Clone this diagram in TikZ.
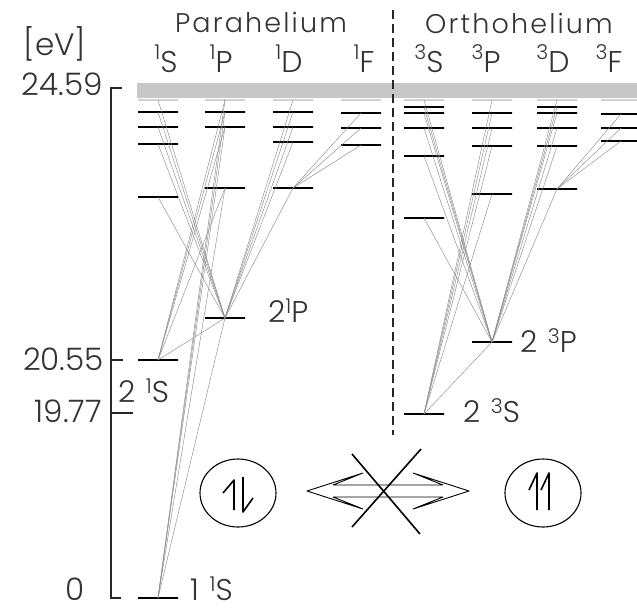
\documentclass[tikz,border=0pt]{standalone}
\usepackage{fontspec}
\setmainfont{Poppins}[UprightFont={* Light}]
\usepackage{tikz}
\usetikzlibrary{shapes.geometric, positioning}

\newcommand{\hsup}[2][0.3em]{\raisebox{#1}{\scalebox{0.68}{#2}}}

\begin{document}
\begin{tikzpicture}[
    x=1pt, y=-1pt,
    lvl/.style={
        draw, line width=2.4pt,
        inner sep=0pt, outer sep=0pt,
        minimum width=40pt, minimum height=0pt
    },
    lim/.style={lvl, draw=black!18, line width=1.4pt},
    trans/.style={black!45, line width=0.45pt},
    txt/.style={text=black!80, inner sep=0pt,
        font=\fontsize{30}{32}\selectfont\addfontfeature{LetterSpace=8}},
    num/.style={txt, font=\fontsize{31}{33}\selectfont},
    head/.style={txt, font=\fontsize{27}{29}\selectfont\addfontfeature{LetterSpace=8}},
    term/.style={txt, font=\fontsize{30}{32}\selectfont},
    axis/.style={line width=1.8pt, black!85},
    sep/.style={dash pattern=on 9pt off 5pt, line width=1.2pt, black!85},
    spin/.style={ellipse, draw, line width=1.1pt, minimum width=76pt, minimum height=68pt},
    harp/.style={line width=1.6pt, line join=round},
]
\useasboundingbox (0,0) rectangle (637,611);

% Ionisation band
\fill[black!22] (137,83) rectangle (637,98);

% Heads
\node[num, anchor=base]  (unit)      at (55,55)  {[eV]};
\node[head, anchor=base] (parahead)  at (261,32) {Parahelium};
\node[head, anchor=base] (orthohead) at (519,33) {Orthohelium};

\node[term, anchor=base] (hs1) at (166,72) {\hsup[0.42em]{1}S};
\node[term, anchor=base] (hs2) at (221,72) {\hsup[0.42em]{1}P};
\node[term, anchor=base] (hs3) at (289,72) {\hsup[0.42em]{1}D};
\node[term, anchor=base] (hs4) at (364,72) {\hsup[0.42em]{1}F};
\node[term, anchor=base] (ht1) at (429,72) {\hsup[0.42em]{3}S};
\node[term, anchor=base] (ht2) at (486,72) {\hsup[0.42em]{3}P};
\node[term, anchor=base] (ht3) at (553,72) {\hsup[0.42em]{3}D};
\node[term, anchor=base] (ht4) at (609,72) {\hsup[0.42em]{3}F};

% Energy axis
\coordinate (axtop) at (111,88);
\coordinate (axbot) at (111,598);
\draw[axis] ([xshift=11pt]axtop) -- (axtop) -- (axbot) -- ([xshift=10pt]axbot);
\draw[axis] (111,360) -- ++(12,0);
\draw[axis] (111,413) -- ++(22,0);

\node[num, anchor=base east] (e1) at (103,95)  {24.59};
\node[num, anchor=base east] (e2) at (104,370) {20.55};
\node[num, anchor=base east] (e3) at (102,422) {19.77};
\node[num, anchor=base]      (e4) at (75,600)  {0};

% Separator
\draw[sep] (393,10) -- (393,435);

% Series limits
\node[lim] (sLimS) at (158,100) {};
\node[lim] (sLimP) at (225,100) {};
\node[lim] (sLimD) at (293,100) {};
\node[lim] (sLimF) at (361,100) {};
\node[lim] (tLimS) at (424,100) {};
\node[lim] (tLimP) at (492,100) {};
\node[lim] (tLimD) at (557,100) {};
\node[lim] (tLimF) at (621,100) {};

% Singlet levels
\node[lvl] (s1S) at (158,598) {};
\node[lvl] (s2S) at (158,360) {};
\node[lvl] (s3S) at (158,197) {};
\node[lvl] (s4S) at (158,144) {};
\node[lvl] (s5S) at (158,127) {};
\node[lvl] (s6S) at (158,112) {};
\node[lvl] (s2P) at (225,318) {};
\node[lvl] (s3P) at (225,188) {};
\node[lvl] (s4P) at (225,127) {};
\node[lvl] (s5P) at (225,112) {};
\node[lvl] (s3D) at (293,188) {};
\node[lvl] (s4D) at (293,142) {};
\node[lvl] (s5D) at (293,127) {};
\node[lvl] (s6D) at (293,112) {};
\node[lvl] (s4F) at (361,145) {};
\node[lvl] (s5F) at (361,128) {};
\node[lvl] (s6F) at (361,113) {};

% Triplet levels
\node[lvl] (t2S) at (424,414) {};
\node[lvl] (t3S) at (424,218) {};
\node[lvl] (t4S) at (424,156) {};
\node[lvl] (t5S) at (424,128) {};
\node[lvl] (t6S) at (424,113) {};
\node[lvl] (t7S) at (424,107) {};
\node[lvl] (t2P) at (492,342) {};
\node[lvl] (t3P) at (492,194) {};
\node[lvl] (t4P) at (492,146) {};
\node[lvl] (t5P) at (492,128) {};
\node[lvl] (t6P) at (492,113) {};
\node[lvl] (t3D) at (557,189) {};
\node[lvl] (t4D) at (557,146) {};
\node[lvl] (t5D) at (557,128) {};
\node[lvl] (t6D) at (557,113) {};
\node[lvl] (t7D) at (557,107) {};
\node[lvl] (t4F) at (621,141) {};
\node[lvl] (t5F) at (621,128) {};
\node[lvl] (t6F) at (621,114) {};

% Level names
\node[txt, anchor=base west] (n1) at (268,322) {2\hsup{1}P};
\node[txt, anchor=base west] (n2) at (118,402) {2 \hsup{1}S};
\node[txt, anchor=base west] (n3) at (190,600) {1 \hsup{1}S};
\node[txt, anchor=base west] (n4) at (520,352) {2 \hsup{3}P};
\node[txt, anchor=base west] (n5) at (463,422) {2 \hsup{3}S};

% Singlet transitions
\draw[trans] (s2P.center) edge (sLimS.center) edge (s6S.center) edge (s5S.center)
    edge (s4S.center) edge (s3S.center)
    edge (sLimD.center) edge (s6D.center) edge (s5D.center) edge (s4D.center) edge (s3D.center);
\draw[trans] (s2S.center) edge (sLimP.center) edge (s5P.center) edge (s4P.center)
    edge (s3P.center) edge (s2P.center);
\draw[trans] (s1S.center) edge (sLimP.center) edge (s5P.center) edge (s4P.center)
    edge (s3P.center) edge (s2P.center);
\draw[trans] (s3D.center) edge (s4F.center) edge (s5F.center) edge (s6F.center);

% Triplet transitions
\draw[trans] (t2P.center) edge (tLimS.center) edge (t7S.center) edge (t6S.center)
    edge (t5S.center) edge (t4S.center) edge (t3S.center)
    edge (tLimD.center) edge (t7D.center) edge (t6D.center) edge (t5D.center)
    edge (t4D.center) edge (t3D.center);
\draw[trans] (t2S.center) edge (tLimP.center) edge (t6P.center) edge (t5P.center)
    edge (t4P.center) edge (t3P.center) edge (t2P.center);
\draw[trans] (t3D.center) edge (t4F.center) edge (t5F.center) edge (t6F.center);

% Spin pictures
\node[spin] (para)  at (238,493) {};
\node[spin] (ortho) at (543,493) {};
\draw[harp] ([shift={(-15,0)}]para.center) -- ++(11,-13) -- ++(0,30);
\draw[harp] ([shift={(5,-16)}]para.center) -- ++(0,35) -- ++(10,-14);
\draw[harp] ([shift={(-14,-3)}]ortho.center) -- ++(8,-17) -- ++(0,37);
\draw[harp] ([shift={(-2,-3)}]ortho.center) -- ++(8,-17) -- ++(0,37);

% Forbidden exchange
\coordinate (mid) at (388,491);
\begin{scope}[shift={(mid)}]
    \draw[line width=0.9pt, line join=round]
        (-81,0) -- (-25,-18) -- (-55,-6) -- (55,-6) -- (25,-18) -- (81,0)
        -- (25,18) -- (55,6) -- (-55,6) -- (-25,18) -- cycle;
    \draw[line width=1.6pt] (-36,-37) -- (32,43) (33,-42) -- (-36,36);
\end{scope}

\end{tikzpicture}
\end{document}
